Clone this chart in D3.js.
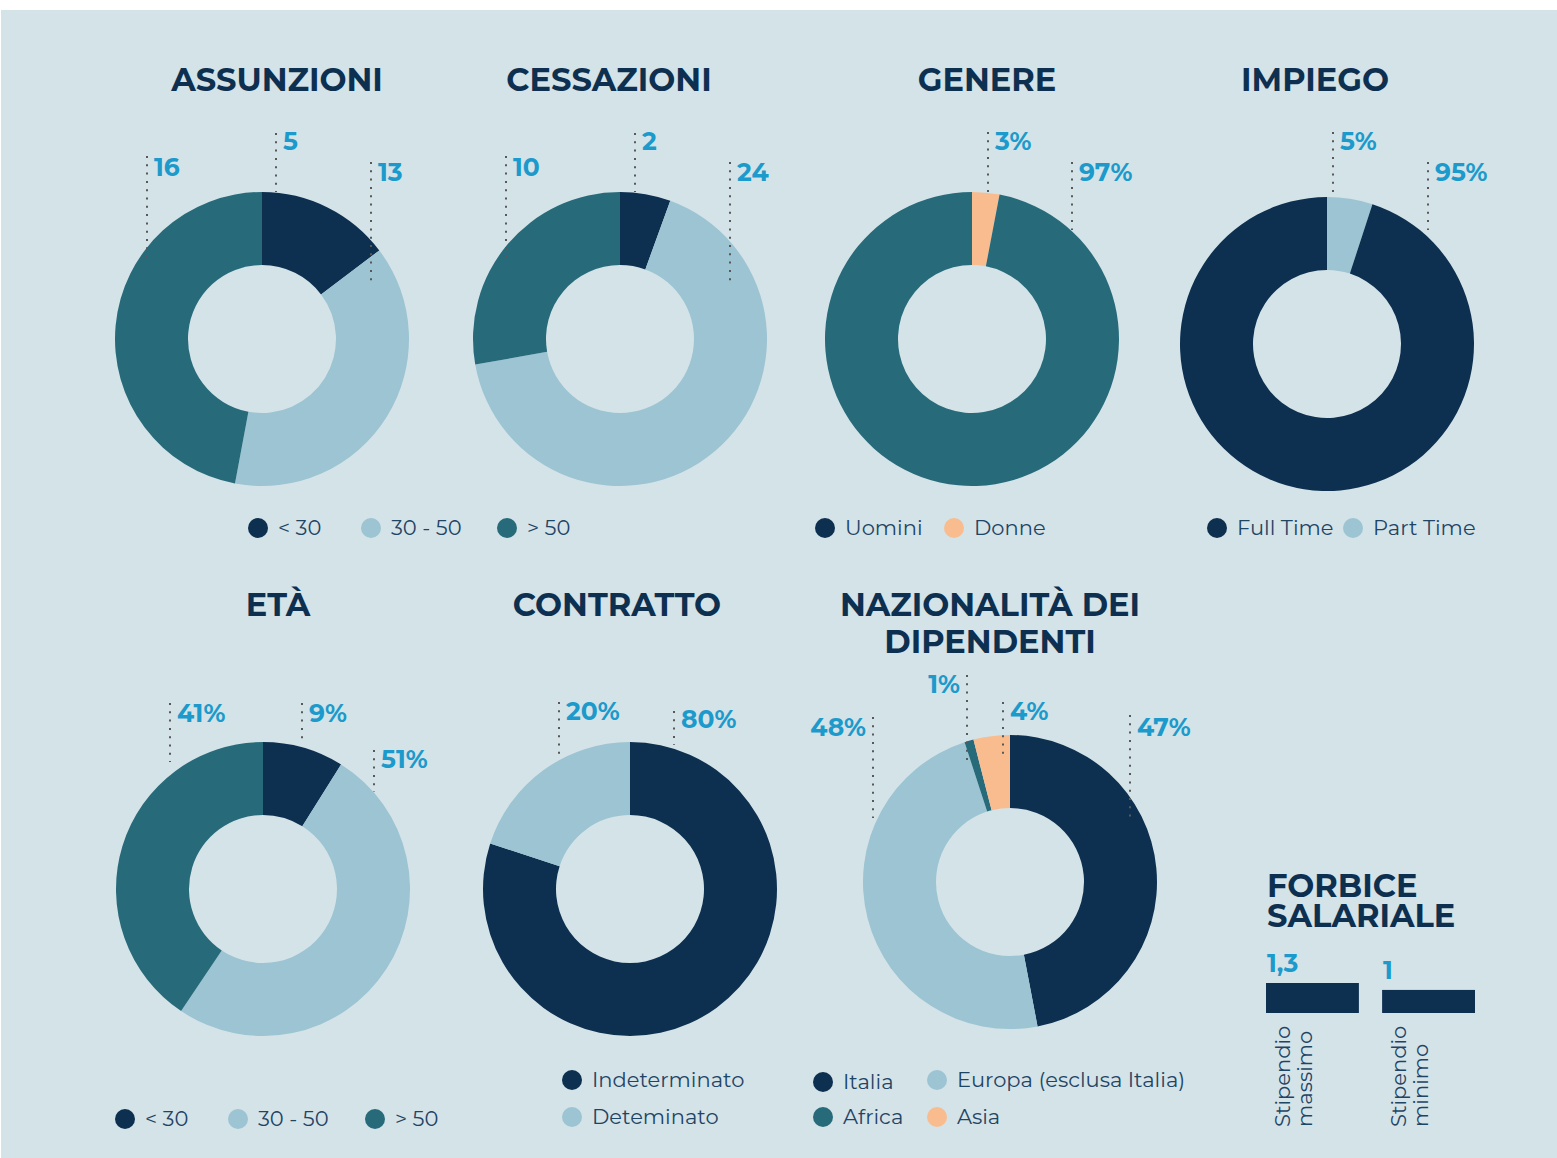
<!DOCTYPE html>
<html>
<head>
<meta charset="utf-8">
<script src="https://cdn.jsdelivr.net/npm/d3@7"></script>
<style>
  html, body { margin: 0; padding: 0; background: #ffffff; }
  svg { display: block; }
</style>
</head>
<body>
<div id="chart"></div>
<script>
// ---- data ----
const etaCategories = ["< 30", "30 - 50", "> 50"];
const assunzioniValues = [5, 13, 16];
const cessazioniValues = [2, 24, 10];
const genereCategories = ["Donne", "Uomini"];
const genereValues = [3, 97];
const impiegoCategories = ["Part Time", "Full Time"];
const impiegoValues = [5, 95];
const etaValues = [9, 51, 41];
const contrattoCategories = ["Indeterminato", "Deteminato"];
const contrattoValues = [80, 20];
const nazionalitaCategories = ["Italia", "Europa (esclusa Italia)", "Africa", "Asia"];
const nazionalitaValues = [47, 48, 1, 4];
const forbiceCategories = ["Stipendio massimo", "Stipendio minimo"];
const forbiceValues = [1.3, 1];
const forbiceLabels = ["1,3", "1"];

// ---- style ----
const NAVY = "#0d3050", LIGHT = "#9cc4d2", TEAL = "#276b7b", PEACH = "#f9bc8f";
const BLUE = "#1b9acb", BG = "#d4e3e8", LEGEND_TXT = "#1f4565", DOTS = "#585858";
const FONT = "Montserrat, 'Noto Sans', sans-serif";

const W = 1557, H = 1158;
const outerR = 147, innerR = 74;

const svg = d3.select("#chart").append("svg")
    .attr("width", W)
    .attr("height", H);

svg.append("rect")
    .attr("x", 1).attr("y", 10)
    .attr("width", W - 1).attr("height", H - 10)
    .attr("fill", BG);

const pie = d3.pie().sort(null).value(d => d);
const arc = d3.arc().innerRadius(innerR).outerRadius(outerR);

// label layout: offsets from the donut centre (line x, line top, line bottom, text baseline)
const charts = [
    { title: ["ASSUNZIONI"], tx: 277, ty: 91, cx: 262, cy: 339,
      values: assunzioniValues, colors: [NAVY, LIGHT, TEAL], suffix: "",
      labels: [[14, -206, -147, -189], [109, -177, -57, -158], [-115, -183, -82, -163]] },
    { title: ["CESSAZIONI"], tx: 609, ty: 91, cx: 620, cy: 339,
      values: cessazioniValues, colors: [NAVY, LIGHT, TEAL], suffix: "",
      labels: [[15, -206, -147, -189], [110, -177, -57, -158], [-114, -183, -82, -163]] },
    { title: ["GENERE"], tx: 987, ty: 91, cx: 972, cy: 339,
      values: genereValues, colors: [PEACH, TEAL], suffix: "%",
      labels: [[16, -207, -146, -189], [100, -177, -109, -158]] },
    { title: ["IMPIEGO"], tx: 1315, ty: 91, cx: 1327, cy: 344,
      values: impiegoValues, colors: [LIGHT, NAVY], suffix: "%",
      labels: [[6, -212, -151, -194], [101, -182, -114, -163]] },
    { title: ["ETÀ"], tx: 278, ty: 616, cx: 263, cy: 889,
      values: etaValues, colors: [NAVY, LIGHT, TEAL], suffix: "%",
      labels: [[39, -186, -146, -167], [111, -139, -97, -121], [-93, -186, -127, -167]] },
    { title: ["CONTRATTO"], tx: 617, ty: 616, cx: 630, cy: 889,
      values: contrattoValues, colors: [NAVY, LIGHT], suffix: "%",
      labels: [[44, -178, -144, -161], [-71, -187, -129, -169]] },
    { title: ["NAZIONALITÀ DEI", "DIPENDENTI"], tx: 990, ty: 616, cx: 1010, cy: 882,
      values: nazionalitaValues, colors: [NAVY, LIGHT, TEAL, PEACH], suffix: "%",
      labels: [[120, -167, -65, -146], [-137, -165, -64, -146, "end"], [-43, -207, -122, -189, "end"], [-7, -180, -122, -162]] }
];

charts.forEach(function(c) {
    const t = svg.append("text")
        .attr("x", c.tx).attr("y", c.ty)
        .attr("text-anchor", "middle")
        .attr("fill", NAVY)
        .style("font-family", FONT)
        .style("font-weight", 700)
        .style("font-size", "32px");
    c.title.forEach(function(line, i) {
        t.append("tspan").attr("x", c.tx).attr("dy", i ? 37 : 0).text(line);
    });

    const g = svg.append("g").attr("transform", `translate(${c.cx},${c.cy})`);
    g.selectAll("path")
        .data(pie(c.values))
        .enter().append("path")
        .attr("d", arc)
        .attr("fill", (d, i) => c.colors[i]);

    c.labels.forEach(function(l, i) {
        const [lx, y1, y2, base, anchor] = l;
        g.append("line")
            .attr("x1", lx).attr("x2", lx)
            .attr("y1", y1).attr("y2", y2)
            .attr("stroke", DOTS)
            .attr("stroke-width", 2)
            .attr("stroke-dasharray", "2 6.3");
        g.append("text")
            .attr("x", anchor === "end" ? lx - 7 : lx + 7)
            .attr("y", base)
            .attr("text-anchor", anchor || "start")
            .attr("fill", BLUE)
            .style("font-family", FONT)
            .style("font-weight", 700)
            .style("font-size", "25px")
            .text(c.values[i] + c.suffix);
    });
});

// ---- legends ----
const legends = [
    [[etaCategories[0], NAVY, 258, 528], [etaCategories[1], LIGHT, 371, 528], [etaCategories[2], TEAL, 507, 528]],
    [[genereCategories[1], NAVY, 825, 528], [genereCategories[0], PEACH, 954, 528]],
    [[impiegoCategories[1], NAVY, 1217, 528], [impiegoCategories[0], LIGHT, 1353, 528]],
    [[etaCategories[0], NAVY, 125, 1119], [etaCategories[1], LIGHT, 238, 1119], [etaCategories[2], TEAL, 375, 1119]],
    [[contrattoCategories[0], NAVY, 572, 1080], [contrattoCategories[1], LIGHT, 572, 1117]],
    [[nazionalitaCategories[0], NAVY, 823, 1082], [nazionalitaCategories[1], LIGHT, 937, 1080],
     [nazionalitaCategories[2], TEAL, 823, 1117], [nazionalitaCategories[3], PEACH, 937, 1117]]
];

legends.forEach(function(items) {
    const lg = svg.append("g").attr("class", "legend");
    const it = lg.selectAll("g").data(items).enter().append("g")
        .attr("transform", d => `translate(${d[2]},${d[3]})`);
    it.append("circle").attr("r", 10).attr("fill", d => d[1]);
    it.append("text")
        .attr("x", 20).attr("y", 7)
        .attr("fill", LEGEND_TXT)
        .style("font-family", FONT)
        .style("font-size", "21px")
        .text(d => d[0]);
});

// ---- forbice salariale ----
const fTitle = svg.append("text")
    .attr("x", 1267).attr("y", 897)
    .attr("fill", NAVY)
    .style("font-family", FONT)
    .style("font-weight", 700)
    .style("font-size", "32px");
fTitle.append("tspan").attr("x", 1267).text("FORBICE");
fTitle.append("tspan").attr("x", 1267).attr("dy", 30).text("SALARIALE");

const fx = d3.scaleBand().domain(forbiceCategories).range([1266, 1475]).paddingInner(0.2).paddingOuter(0);
const fh = d3.scaleLinear().domain([0, 1.3]).range([0, 30]);
const fBase = 1013;

const fg = svg.append("g").selectAll("g")
    .data(forbiceCategories.map((c, i) => ({ cat: c, value: forbiceValues[i], label: forbiceLabels[i] })))
    .enter().append("g");

fg.append("rect")
    .attr("x", d => fx(d.cat))
    .attr("y", d => fBase - fh(d.value))
    .attr("width", fx.bandwidth())
    .attr("height", d => fh(d.value))
    .attr("fill", NAVY);

fg.append("text")
    .attr("x", d => fx(d.cat) + 1)
    .attr("y", d => fBase - fh(d.value) - 11)
    .attr("fill", BLUE)
    .style("font-family", FONT)
    .style("font-weight", 700)
    .style("font-size", "25px")
    .text(d => d.label);

fg.each(function(d) {
    const words = d.cat.split(" ");
    const g = d3.select(this);
    words.forEach(function(w, i) {
        const x = fx(d.cat) + 24 + i * 22;
        g.append("text")
            .attr("transform", `translate(${x},1127) rotate(-90)`)
            .attr("fill", LEGEND_TXT)
            .style("font-family", FONT)
            .style("font-size", "21px")
            .text(w);
    });
});
</script>
</body>
</html>
